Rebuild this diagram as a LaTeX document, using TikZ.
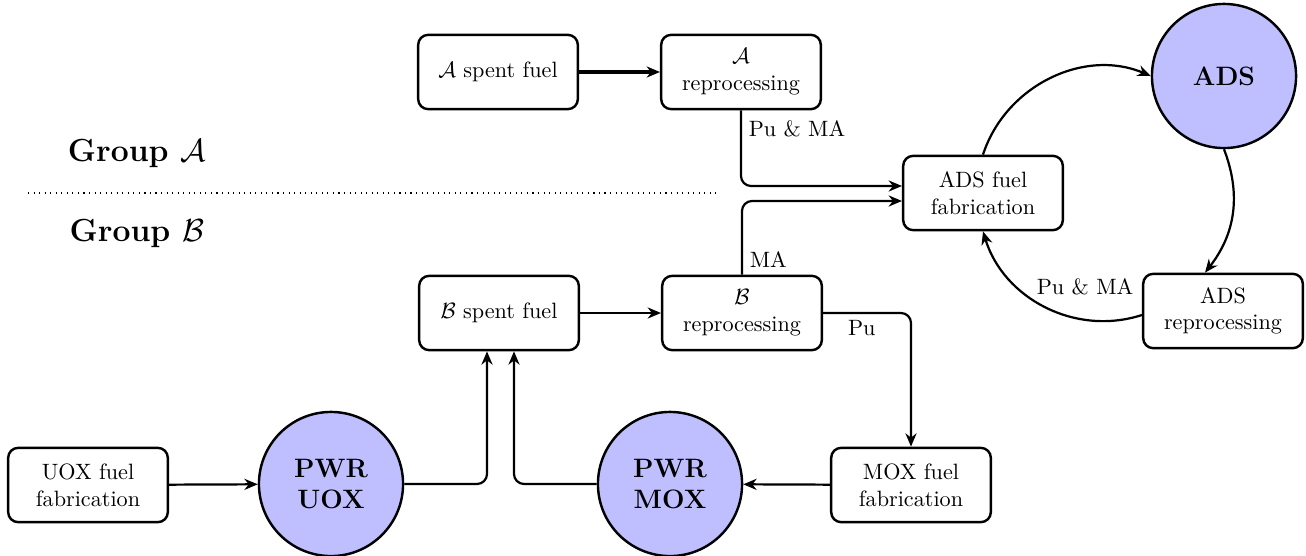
\documentclass[tikz,border=0pt]{standalone}
\usetikzlibrary{arrows.meta,calc}
\begin{document}
\begin{tikzpicture}[x=0.451pt,y=0.451pt,
  box/.style={draw,line width=1.1pt,rounded corners=4.5pt,minimum width=72pt,minimum height=33.5pt,align=center,inner sep=2pt},
  reactor/.style={draw,line width=1.1pt,circle,fill=blue!25,minimum size=65pt,align=center,font=\large\bfseries,inner sep=0pt},
  conn/.style={line width=1pt,-{Stealth[length=6pt,width=5pt]},rounded corners=4.5pt},
  lbl/.style={font=\normalsize,inner sep=1pt}]
\useasboundingbox (0,0) rectangle (1306,-556);
% nodes
\node[box] (aspent) at (498,-72) {$\mathcal{A}$ spent fuel};
\node[box] (arep) at (741,-72) {$\mathcal{A}$\\reprocessing};
\node[box] (bspent) at (499,-313) {$\mathcal{B}$ spent fuel};
\node[box] (brep) at (742,-313) {$\mathcal{B}$\\reprocessing};
\node[box] (adsfab) at (983,-193) {ADS fuel\\fabrication};
\node[box] (adsrep) at (1223,-311) {ADS\\reprocessing};
\node[box] (uoxfab) at (88,-485) {UOX fuel\\fabrication};
\node[box] (moxfab) at (911,-485) {MOX fuel\\fabrication};
\node[reactor] (ads) at (1224,-76) {ADS};
\node[reactor] (pwruox) at (331,-484) {PWR\\UOX};
\node[reactor] (pwrmox) at (670,-484) {PWR\\MOX};
\node[font=\Large\bfseries,anchor=center] (ga) at (137,-153) {Group $\mathcal{A}$};
\node[font=\Large\bfseries,anchor=center] (gb) at (137,-233) {Group $\mathcal{B}$};
\coordinate (dl) at (28,-193);
\coordinate (dr) at (718,-193);
\draw[dotted,line width=0.5pt] (dl) -- (dr);
% connectors
\draw[conn,line width=1.4pt] (aspent) -- (arep);
\draw[conn] (arep.south) |- ($(adsfab.west)+(0,7)$) node[pos=0.12,right,lbl,xshift=2pt] {Pu \& MA};
\draw[conn] (brep.north) |- ($(adsfab.west)+(0,-8)$) node[pos=0.1,right,lbl,xshift=2pt] {MA};
\draw[conn] (bspent) -- (brep);
\draw[conn] (brep.east) -| (moxfab.north) node[pos=0.22,below,lbl,yshift=-2pt] {Pu};
\draw[conn] (uoxfab) -- (pwruox);
\draw[conn] (moxfab) -- (pwrmox);
\draw[conn] (pwruox.east) -| ($(bspent.south)+(-12,0)$);
\draw[conn] (pwrmox.west) -| ($(bspent.south)+(15,0)$);
\draw[conn,rounded corners=0pt] (adsfab.north) to[out=72,in=157] (ads.west);
\draw[conn,rounded corners=0pt] (ads.south) to[out=-69,in=52] ($(adsrep.north)+(-18,0)$);
\draw[conn,rounded corners=0pt] ($(adsrep.west)+(0,-4)$) to[out=198,in=-73] (adsfab.south);
\node[lbl] (puma2) at (1085,-287) {Pu \& MA};
\end{tikzpicture}
\end{document}
